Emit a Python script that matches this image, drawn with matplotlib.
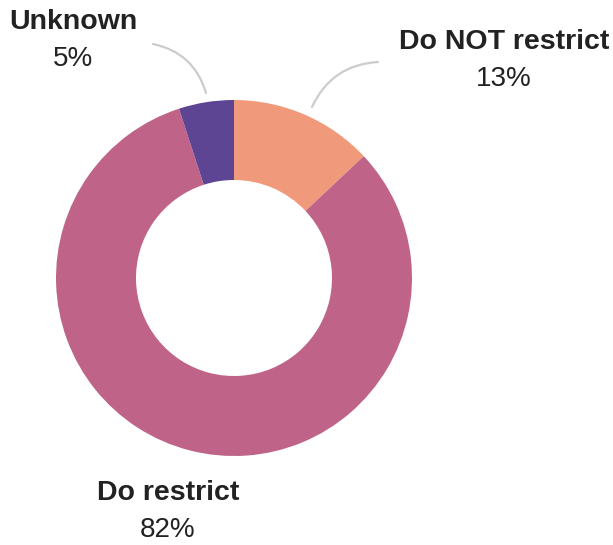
import matplotlib.pyplot as plt

labels = ["Do NOT restrict", "Do restrict", "Unknown"]
shares = [13, 82, 5]
colors = ["#f19a7b", "#bf6488", "#5e4593"]

W, H = 613, 545
fig = plt.figure(figsize=(W / 100, H / 100), dpi=100)
ax = fig.add_axes([0, 0, 1, 1])

# donut, drawn clockwise from 12 o'clock
cx, cy, r = 234, H - 278, 178
ax.pie(shares, colors=colors, startangle=90, counterclock=False,
       center=(cx, cy), radius=r, frame=True,
       wedgeprops=dict(width=80, linewidth=0))
ax.set_xlim(0, W)
ax.set_ylim(0, H)
ax.set_aspect("equal")
ax.axis("off")

plt.rcParams["font.family"] = ["Liberation Sans", "DejaVu Sans"]

# label positions (pixel coords, y from top)
label_pos = [(504, 42), (168, 493), (73, 22)]
for name, pct, (x, y) in zip(labels, shares, label_pos):
    ax.text(x, H - y, name, ha="center", va="center", fontsize=20.5,
            fontweight="bold", color="#222222")
    ax.text(x, H - y - 37, f"{pct}%", ha="center", va="center",
            fontsize=20, color="#222222")

# curved leader lines
line_kw = dict(arrowstyle="-", color="#cccccc", lw=1.6, shrinkA=0, shrinkB=0)
ax.annotate("", xy=(312, H - 107), xytext=(378, H - 62),
            arrowprops=dict(connectionstyle="arc3,rad=0.3", **line_kw))
ax.annotate("", xy=(206, H - 93), xytext=(153, H - 44),
            arrowprops=dict(connectionstyle="arc3,rad=-0.3", **line_kw))

fig.savefig("out.png", dpi=100)
